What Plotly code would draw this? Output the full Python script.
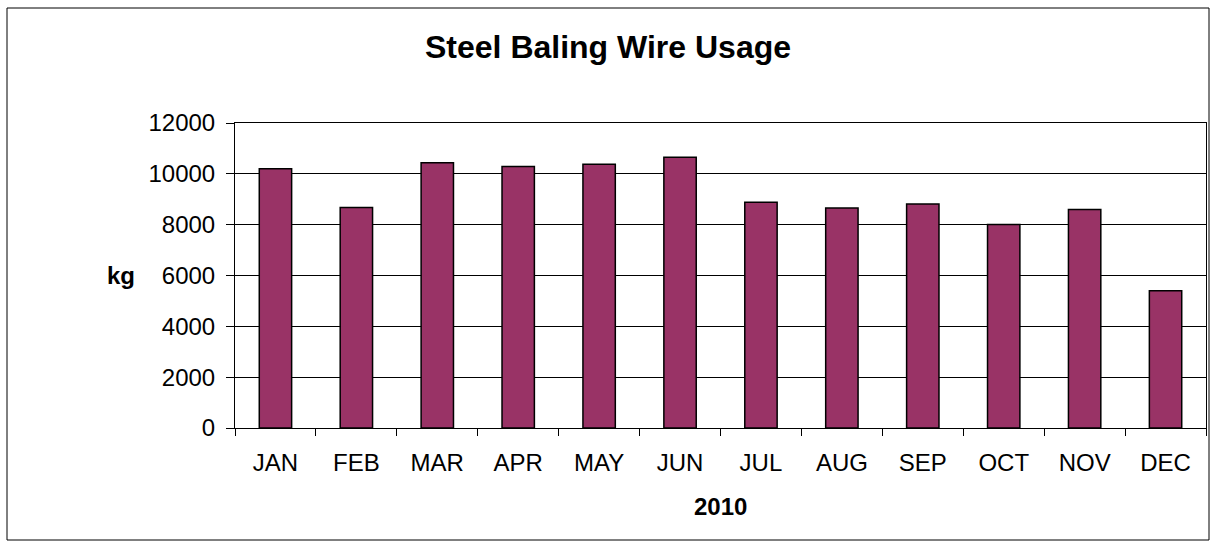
import plotly.graph_objects as go

months = ["JAN", "FEB", "MAR", "APR", "MAY", "JUN", "JUL", "AUG", "SEP", "OCT", "NOV", "DEC"]
usage_kg = [10200, 8680, 10440, 10290, 10380, 10650, 8880, 8660, 8810, 8010, 8600, 5400]
y_ticks = [0, 2000, 4000, 6000, 8000, 10000, 12000]
y_tick_labels = ["0", "2000", "4000", "6000", "8000", "10000", "12000"]

W, H = 1210, 545
L, R, T, B = 235, 4, 123, 117
pw, ph = W - L - R, H - T - B

def px(x):
    return (x - L) / pw

def py(y):
    return (H - B - y) / ph

FONT = "Arial, Liberation Sans, sans-serif"

fig = go.Figure(go.Bar(
    x=months, y=usage_kg,
    marker=dict(color="#993366", line=dict(color="black", width=1.5)),
))

fig.update_layout(
    width=W, height=H,
    margin=dict(l=L, r=R, t=T, b=B, pad=0),
    paper_bgcolor="white", plot_bgcolor="white",
    showlegend=False,
    bargap=0.6,
    font=dict(family=FONT, color="black", size=24),
    xaxis=dict(
        type="category", showgrid=False, showline=True, linecolor="black", linewidth=1,
        mirror=True, ticks="outside", tickson="boundaries", ticklen=7, tickcolor="black",
        tickfont=dict(size=24, family=FONT), ticklabelstandoff=13,
    ),
    yaxis=dict(
        range=[0, 12000], tickvals=y_ticks, ticktext=y_tick_labels,
        showgrid=True, gridcolor="black", gridwidth=1,
        showline=True, linecolor="black", linewidth=1, mirror=True,
        ticks="outside", ticklen=8, tickcolor="black", zeroline=False,
        tickfont=dict(size=24, family=FONT), ticklabelstandoff=6,
    ),
    shapes=[dict(type="rect", xref="paper", yref="paper",
                 x0=px(7), x1=px(1209), y0=py(540), y1=py(8),
                 line=dict(color="black", width=1), fillcolor="rgba(0,0,0,0)", layer="below")],
    annotations=[
        dict(text="<b>Steel Baling Wire Usage</b>", xref="paper", yref="paper",
             x=px(608), y=py(47), xanchor="center", yanchor="middle", showarrow=False,
             font=dict(size=32, family=FONT)),
        dict(text="<b>kg</b>", xref="paper", yref="paper",
             x=px(121), y=0.5, xanchor="center", yanchor="middle", showarrow=False,
             font=dict(size=24, family=FONT)),
        dict(text="<b>2010</b>", xref="paper", yref="paper",
             x=px(720), y=py(507), xanchor="center", yanchor="middle", showarrow=False,
             font=dict(size=24, family=FONT)),
    ],
)

fig.write_html("out.html")
